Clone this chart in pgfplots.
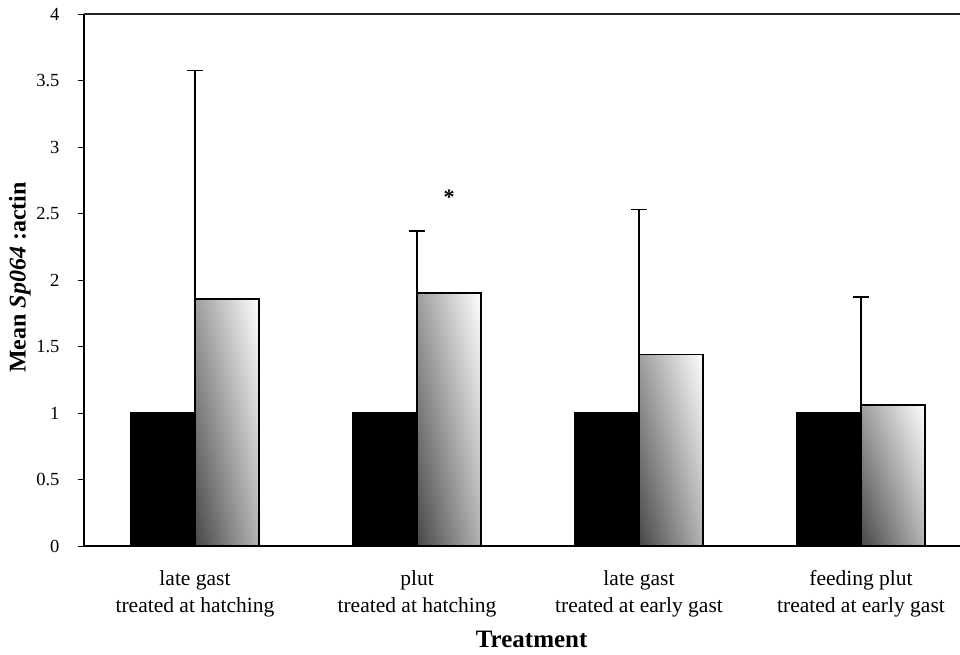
\documentclass[border=0pt]{standalone}
\usepackage{pgfplots}
\pgfplotsset{compat=1.18}
\usetikzlibrary{shadings}
\usepackage{fontspec}
\setmainfont{Liberation Serif}
\begin{document}
\begin{tikzpicture}
\path[use as bounding box] (-84pt,-108pt) rectangle (876pt,546pt);
\begin{axis}[
  scale only axis,
  width=876pt, height=532pt,
  xmin=-0.5, xmax=3.446,
  ymin=0, ymax=4,
  clip=false,
  axis x line*=bottom,
  axis y line*=left,
  axis line style={line width=1.5pt, black},
  tick align=outside,
  ytick={0,0.5,1,1.5,2,2.5,3,3.5,4},
  yticklabels={0,0.5,1,1.5,2,2.5,3,3.5,4},
  major tick length=6pt,
  tick style={line width=0.8pt, black},
  xtick={0,1,2,3},
  xticklabels={{late gast\\treated at hatching},{plut\\treated at hatching},{late gast\\treated at early gast},{feeding plut\\treated at early gast}},
  x tick style={draw=none},
  extra x ticks={0.5,1.5,2.5},
  extra x tick labels={},
  extra x tick style={tick style={draw=black, line width=0.8pt}, major tick length=6pt},
  xticklabel style={font=\fontsize{21.5}{27}\selectfont, align=center, anchor=north, yshift=-15pt},
  yticklabel style={font=\fontsize{18.5}{20}\selectfont, anchor=east, xshift=-15pt},
  /pgf/number format/assume math mode=true,
  xlabel={\textbf{Treatment}},
  xlabel style={font=\fontsize{25}{28}\selectfont, at={(axis description cs:0.511,-0.1917)}, anchor=base},
  ylabel={\textbf{Mean \textit{Sp064} :actin}},
  ylabel style={font=\fontsize{24}{26}\selectfont, at={(axis description cs:-0.0731,0.505)}, anchor=center},
  gradbar/.style={ybar, bar width=0.29, bar shift=0.145, draw=black, line width=1.8pt,
    lower left=black!72, upper left=black!38, upper right=white, lower right=black!30,
    error bars/.cd, y dir=plus, y explicit,
    error bar style={line width=1.6pt, black},
    error mark options={rotate=90, mark size=8pt, line width=1.6pt, black}},
]
\addplot[ybar, bar width=0.29, bar shift=-0.145, fill=black, draw=black, line width=1.2pt]
  coordinates {(0,1) (1,1) (2,1) (3,1)};
\addplot[gradbar] coordinates {(0,1.855) +- (0,1.72)};
\addplot[gradbar] coordinates {(1,1.90) +- (0,0.47)};
\addplot[gradbar] coordinates {(2,1.44) +- (0,1.09)};
\addplot[gradbar] coordinates {(3,1.06) +- (0,0.81)};
\node[font=\fontsize{22}{24}\selectfont\bfseries] at (axis cs:1.145,2.62) {*};
\draw[line width=1.8pt, black!85] (rel axis cs:0,1) -- (rel axis cs:1,1);
\end{axis}
\end{tikzpicture}
\end{document}
